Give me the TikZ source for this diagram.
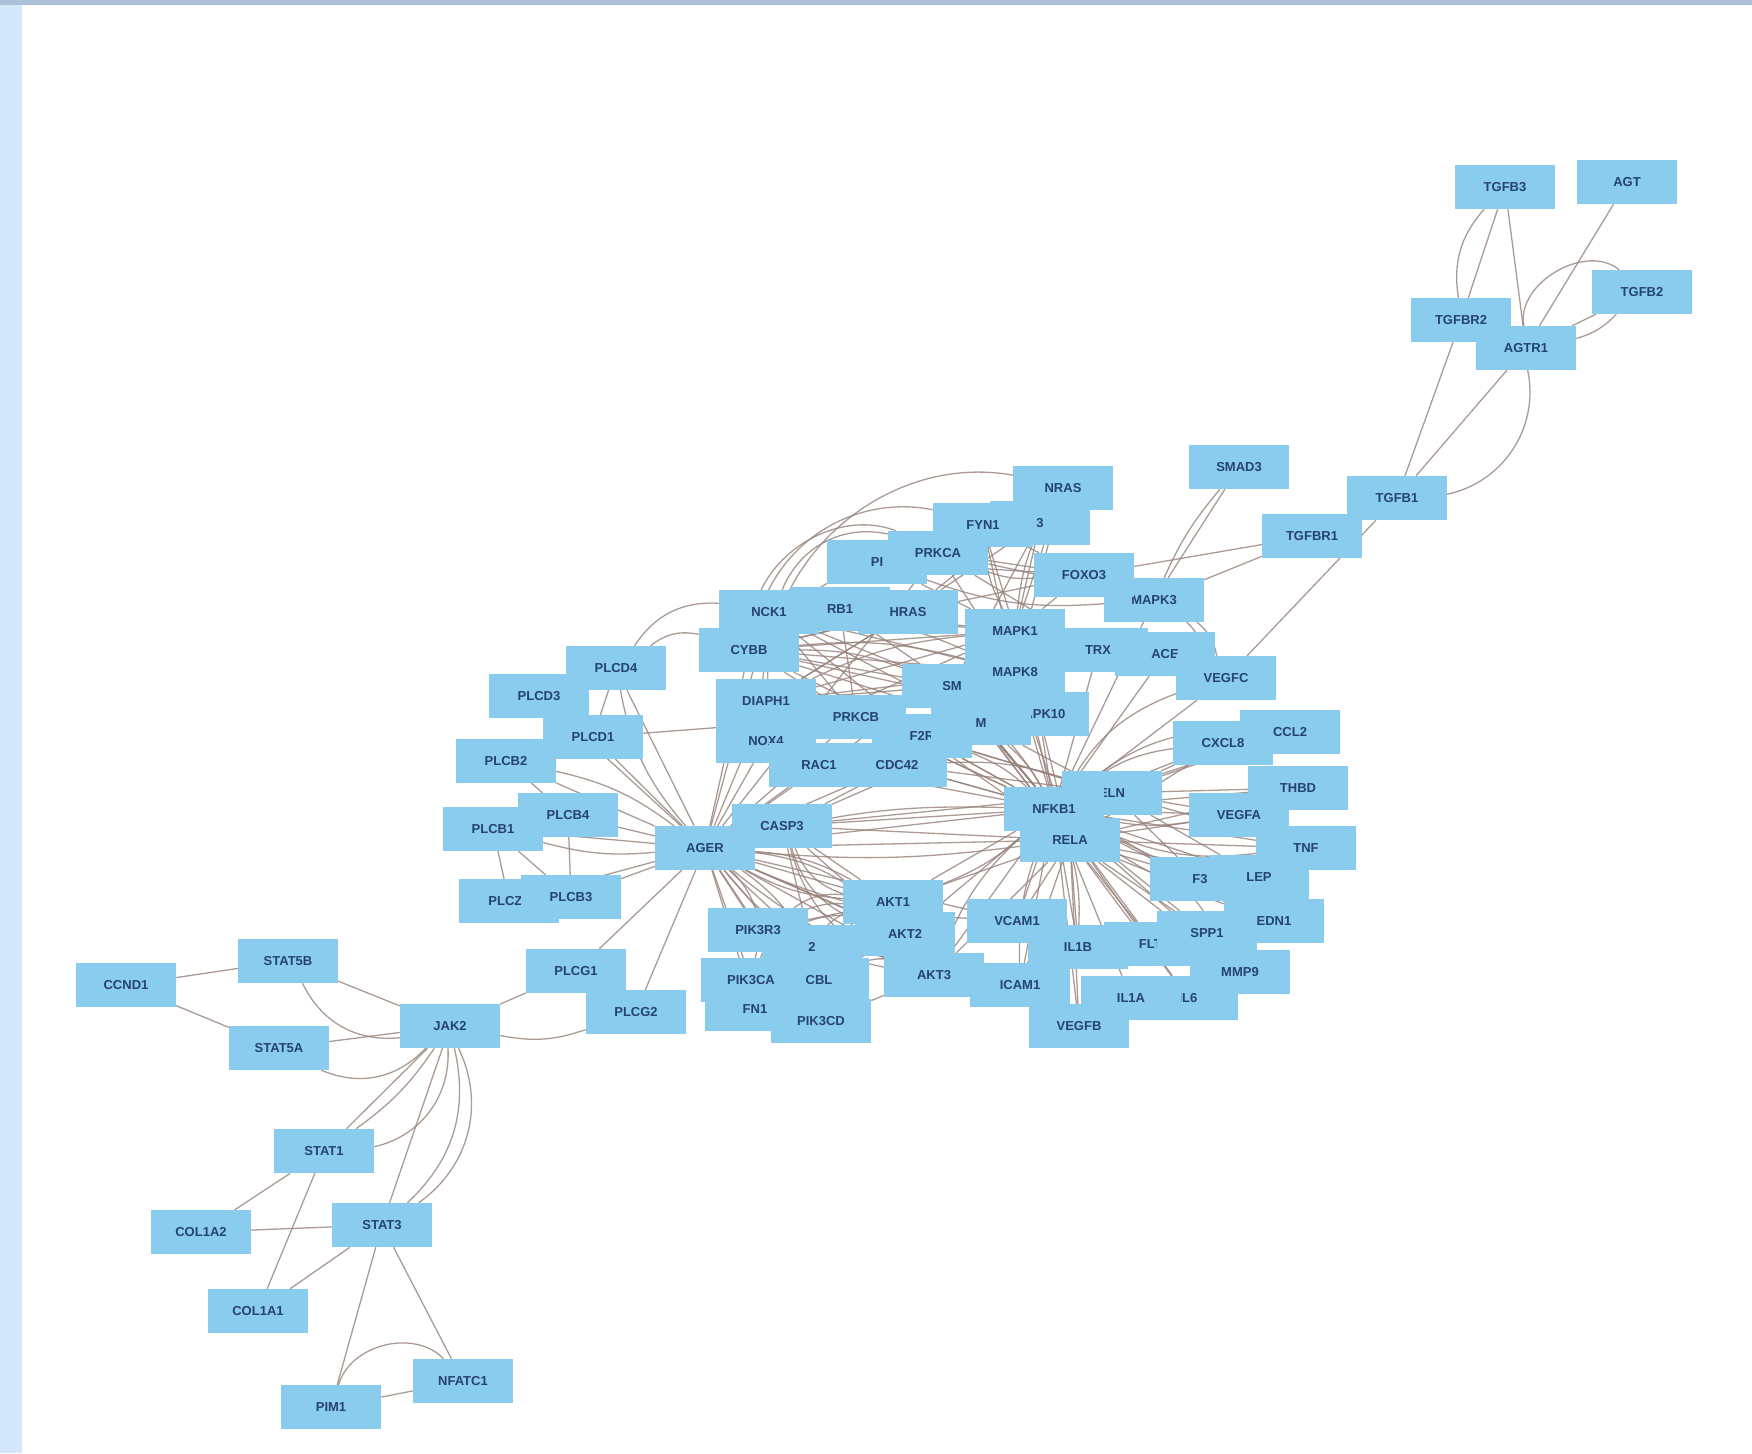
\documentclass[tikz,border=0pt]{standalone}
\usepackage{fontspec}
\newfontfamily\lsans{Liberation Sans}
\usetikzlibrary{backgrounds}
\definecolor{nodefill}{RGB}{137,204,238}
\definecolor{nodetext}{RGB}{38,66,112}
\definecolor{edgecol}{RGB}{150,130,122}
\definecolor{stripcol}{RGB}{212,230,250}
\definecolor{barcol}{RGB}{172,192,218}
\tikzset{
  gene/.style={rectangle, fill=nodefill, minimum width=100pt, minimum height=44pt, inner sep=0pt,
    font={\lsans\bfseries\fontsize{13pt}{13pt}\selectfont}, text=nodetext},
  edge/.style={draw=edgecol, line width=1.3pt, draw opacity=0.8},
}
\begin{document}
\begin{tikzpicture}[x=1pt,y=-1pt]
\useasboundingbox (0,0) rectangle (1752,1453);
% ---------- nodes ----------
% top right
\node[gene] (TGFB3) at (1505,187) {TGFB3};
\node[gene] (AGT) at (1627,182) {AGT};
\node[gene] (TGFB2) at (1642,292) {TGFB2};
\node[gene] (TGFBR2) at (1461,320) {TGFBR2};
\node[gene] (AGTR1) at (1526,348) {AGTR1};
\node[gene] (SMAD3) at (1239,467) {SMAD3};
\node[gene] (TGFB1) at (1397,498) {TGFB1};
\node[gene] (TGFBR1) at (1312,536) {TGFBR1};
% cluster
\node[gene] (X3) at (1040,523) {3};
\node[gene] (NRAS) at (1063,488) {NRAS};
\node[gene] (FYN) at (983,525) {FYN1};
\node[gene] (PI) at (877,562) {PI};
\node[gene] (PRKCA) at (938,553) {PRKCA};
\node[gene] (MAPK3) at (1154,600) {MAPK3};
\node[gene] (FOXO3) at (1084,575) {FOXO3};
\node[gene] (NCK1) at (769,612) {NCK1};
\node[gene] (RB1) at (840,609) {RB1};
\node[gene] (HRAS) at (908,612) {HRAS};
\node[gene] (MAPK1) at (1015,631) {MAPK1};
\node[gene] (CYBB) at (749,650) {CYBB};
\node[gene] (TRX) at (1098,650) {TRX};
\node[gene] (ACE) at (1165,654) {ACE};
\node[gene] (VEGFC) at (1226,678) {VEGFC};
\node[gene] (SM) at (952,686) {SM};
\node[gene] (MAPK8) at (1015,672) {MAPK8};
\node[gene] (DIAPH1) at (766,701) {DIAPH1};
\node[gene] (PLG) at (922,736) {F2R};
\node[gene] (PRKCB) at (856,717) {PRKCB};
\node[gene] (MAPK10) at (1039,714) {MAPK10};
\node[gene] (M) at (981,723) {M};
\node[gene] (NOX4) at (766,741) {NOX4};
\node[gene] (RAC1) at (819,765) {RAC1};
\node[gene] (CDC42) at (897,765) {CDC42};
% PLC group
\node[gene] (PLCD4) at (616,668) {PLCD4};
\node[gene] (PLCD3) at (539,696) {PLCD3};
\node[gene] (PLCD1) at (593,737) {PLCD1};
\node[gene] (PLCB2) at (506,761) {PLCB2};
\node[gene] (PLCB1) at (493,829) {PLCB1};
\node[gene] (PLCB4) at (568,815) {PLCB4};
\node[gene] (PLCZ1) at (509,901) {PLCZ1};
\node[gene] (PLCB3) at (571,897) {PLCB3};
\node[gene] (PLCG1) at (576,971) {PLCG1};
\node[gene] (PLCG2) at (636,1012) {PLCG2};
\node[gene] (AGER) at (705,848) {AGER};
\node[gene] (CASP3) at (782,826) {CASP3};
% NFKB group
\node[gene] (ELN) at (1112,793) {ELN};
\node[gene] (NFKB1) at (1054,809) {NFKB1};
\node[gene] (RELA) at (1070,840) {RELA};
\node[gene] (CCL2) at (1290,732) {CCL2};
\node[gene] (CXCL8) at (1223,743) {CXCL8};
\node[gene] (THBD) at (1298,788) {THBD};
\node[gene] (VEGFA) at (1239,815) {VEGFA};
\node[gene] (TNF) at (1306,848) {TNF};
\node[gene] (F3) at (1200,879) {F3};
\node[gene] (LEP) at (1259,877) {LEP};
\node[gene] (EDN1) at (1274,921) {EDN1};
\node[gene] (MMP9) at (1240,972) {MMP9};
\node[gene] (FLT1) at (1154,944) {FLT1};
\node[gene] (SPP1) at (1207,933) {SPP1};
\node[gene] (VCAM1) at (1017,921) {VCAM1};
\node[gene] (IL1B) at (1078,947) {IL1B};
\node[gene] (ICAM1) at (1020,985) {ICAM1};
\node[gene] (IL6) at (1188,998) {IL6};
\node[gene] (IL1A) at (1131,998) {IL1A};
\node[gene] (VEGFB) at (1079,1026) {VEGFB};
% PIK / AKT group
\node[gene] (AKT1) at (893,902) {AKT1};
\node[gene] (AKT2) at (905,934) {AKT2};
\node[gene] (AKT3) at (934,975) {AKT3};
\node[gene] (PIK3R2) at (812,947) {2};
\node[gene] (PIK3R3) at (758,930) {PIK3R3};
\node[gene] (CBL) at (819,980) {CBL};
\node[gene] (PIK3CA) at (751,980) {PIK3CA};
\node[gene] (FN1) at (755,1009) {FN1};
\node[gene] (PIK3CD) at (821,1021) {PIK3CD};
% left bottom
\node[gene] (CCND1) at (126,985) {CCND1};
\node[gene] (STAT5B) at (288,961) {STAT5B};
\node[gene] (STAT5A) at (279,1048) {STAT5A};
\node[gene] (JAK2) at (450,1026) {JAK2};
\node[gene] (STAT1) at (324,1151) {STAT1};
\node[gene] (COL1A2) at (201,1232) {COL1A2};
\node[gene] (STAT3) at (382,1225) {STAT3};
\node[gene] (COL1A1) at (258,1311) {COL1A1};
\node[gene] (PIM1) at (331,1407) {PIM1};
\node[gene] (NFATC1) at (463,1381) {NFATC1};
% ---------- frame and edges (behind the nodes) ----------
\begin{pgfonlayer}{background}
\fill[white] (0,0) rectangle (1752,1453);
\fill[stripcol] (0,5) rectangle (22,1453);
\fill[barcol] (0,0) rectangle (1752,5);
% top right
\foreach \a/\b in {TGFB3/TGFBR2, TGFB3/AGTR1, AGT/AGTR1, TGFB2/AGTR1, TGFBR2/TGFB1, AGTR1/TGFB1,
  SMAD3/MAPK3, TGFBR1/MAPK3, TGFB1/VEGFC, TGFBR1/FOXO3, TGFBR2/AGTR1}
  \draw[edge] (\a) -- (\b);
\draw[edge] (TGFB3) to[bend right=25] (TGFBR2);
\draw[edge] (AGTR1) to[bend left=70] (TGFB2);
\draw[edge] (AGTR1) to[bend right=15] (TGFB2);
\draw[edge] (AGTR1) to[bend left=45] (TGFB1);
\draw[edge] (SMAD3) to[bend right=8] (MAPK3);
% AGER fan
\foreach \b in {PLCD4, PLCD3, PLCD1, PLCB2, PLCB4, PLCB1, PLCZ1, PLCB3, PLCG1, PLCG2, CASP3,
  NFKB1, RELA, DIAPH1, NOX4, CYBB, PIK3R3, PIK3CA, PIK3CD, AKT1, AKT2, AKT3, PIK3R2, CBL, FN1,
  RAC1, PRKCB, PRKCA, NCK1, CDC42, MAPK1, VCAM1, ICAM1}
  \draw[edge] (AGER) -- (\b);
\foreach \b/\c in {AKT1/12, AKT1/-12, AKT2/18, AKT3/-20, PIK3CD/25, PIK3CA/30, NFKB1/8, RELA/-6, VCAM1/-10, ICAM1/-15, PLCD4/15, PLCB2/-12, PLCB1/10}
  \draw[edge] (AGER) to[bend left=\c] (\b);
\foreach \a/\b in {PLCD1/PLCD3, PLCB2/PLCB4, PLCB1/PLCB3, PLCD4/PLCD1, PLCD1/PRKCB, PLCB4/PLCB3, PLCZ1/PLCB1}
  \draw[edge] (\a) -- (\b);
% CASP3 to NFKB
\foreach \b in {NFKB1, RELA, ELN, M, MAPK10, AKT1}
  \draw[edge] (CASP3) -- (\b);
% NFKB hub
\foreach \b in {CXCL8, CCL2, THBD, VEGFA, TNF, F3, LEP, EDN1, SPP1, FLT1, MMP9, IL1B, IL1A, IL6,
  VCAM1, ICAM1, VEGFB, AKT1, AKT2, AKT3, MAPK1, MAPK8, MAPK10, MAPK3, ACE, TRX, VEGFC, M, PLG, CDC42, SM, PRKCB}
  \draw[edge] (NFKB1) -- (\b);
\foreach \b in {VCAM1, ICAM1, IL1B, IL6, TNF, F3, CXCL8, MMP9, EDN1, LEP, VEGFA, THBD, SPP1, FLT1, AKT1, AKT3, VEGFB}
  \draw[edge] (RELA) -- (\b);
\foreach \b in {CXCL8, THBD, VEGFA, CCL2, TNF, LEP, F3}
  \draw[edge] (ELN) -- (\b);
\foreach \b/\c in {CXCL8/15, CCL2/20, TNF/-15, VEGFA/-10, IL1B/12, ICAM1/-12, MMP9/18, EDN1/-8, AKT1/10, AKT3/-14, VEGFC/20}
  \draw[edge] (NFKB1) to[bend left=\c] (\b);
% tangles
\foreach \a/\b in {CYBB/MAPK1, NCK1/MAPK8, RB1/SM, HRAS/DIAPH1, CYBB/MAPK8, DIAPH1/MAPK1, NCK1/SM,
  CYBB/HRAS, CYBB/PRKCB, NCK1/MAPK1, DIAPH1/MAPK8, CYBB/SM, NOX4/MAPK1, RB1/PRKCB, NCK1/PRKCB,
  CYBB/MAPK10, DIAPH1/HRAS, NCK1/PLG, CYBB/M, NCK1/M, DIAPH1/SM, CYBB/PLG}
  \draw[edge] (\a) -- (\b);
\foreach \a/\b in {CYBB/MAPK1, NCK1/MAPK8, DIAPH1/MAPK1, CYBB/SM, NCK1/HRAS, CYBB/MAPK8}
  \draw[edge] (\a) to[bend left=10] (\b);
\foreach \a/\b in {PRKCA/FOXO3, FYN/MAPK1, PRKCA/MAPK3, NRAS/MAPK1, X3/MAPK1, HRAS/FOXO3, FYN/MAPK8,
  PI/FOXO3, PRKCA/TRX, NRAS/HRAS, X3/HRAS, FYN/FOXO3, PRKCA/MAPK8, PI/MAPK1, NRAS/MAPK8, FOXO3/MAPK1, X3/SM}
  \draw[edge] (\a) -- (\b);
\foreach \a/\b in {PRKCA/FOXO3, FYN/MAPK1, NRAS/MAPK1, PI/MAPK3}
  \draw[edge] (\a) to[bend right=12] (\b);
\foreach \a/\b in {M/NFKB1, MAPK10/CDC42, PLG/NFKB1, CDC42/ELN, M/RELA, MAPK10/RELA, PRKCB/ELN,
  SM/NFKB1, MAPK8/RELA, PLG/RELA, CDC42/NFKB1, PRKCB/NFKB1, RAC1/NFKB1, M/ELN, SM/RELA, PLG/ELN}
  \draw[edge] (\a) -- (\b);
\foreach \a/\b in {M/NFKB1, PLG/NFKB1, CDC42/ELN, SM/RELA}
  \draw[edge] (\a) to[bend left=10] (\b);
% arcs over the top of the cluster
\draw[edge] (CYBB) to[bend left=45] (FYN);
\draw[edge] (NCK1) to[bend left=40] (PRKCA);
\draw[edge] (DIAPH1) to[bend left=50] (NRAS);
\draw[edge] (CYBB) to[bend left=55] (PRKCA);
\draw[edge] (NOX4) to[bend left=35] (PI);
\draw[edge] (PLCD4) to[bend left=30] (NCK1);
\draw[edge] (PLCD4) to[bend left=25] (CYBB);
\draw[edge] (FOXO3) to[bend left=20] (VEGFC);
\draw[edge] (MAPK3) to[bend left=20] (VEGFC);
\draw[edge] (ACE) -- (VEGFC);
% arcs around PIK / AKT
\foreach \a/\b/\c in {AKT3/PIK3CD/-40, AKT1/PIK3CD/-45, AKT2/PIK3CA/-50, AKT3/FN1/-55, AKT1/PIK3R3/-20,
  AKT2/PIK3CD/-30, AKT3/PIK3CA/-60, AKT1/CBL/-15}
  \draw[edge] (\a) to[bend left=\c] (\b);
\foreach \a/\b in {AKT1/PIK3R3, AKT2/PIK3R2, AKT3/PIK3CD, AKT1/PIK3CA, AKT2/CBL, CASP3/AKT2, CASP3/PIK3R2}
  \draw[edge] (\a) -- (\b);
\foreach \b in {AKT1, AKT2, AKT3}
  \draw[edge] (CASP3) to[bend right=25] (\b);
% left bottom
\foreach \a/\b in {CCND1/STAT5B, CCND1/STAT5A, STAT5B/JAK2, STAT5A/JAK2, JAK2/PLCG1, JAK2/STAT1,
  JAK2/STAT3, STAT1/COL1A2, STAT1/COL1A1, STAT3/COL1A2, STAT3/COL1A1, STAT3/PIM1, STAT3/NFATC1,
  PIM1/NFATC1}
  \draw[edge] (\a) -- (\b);
\draw[edge] (STAT5B) to[bend right=35] (JAK2);
\draw[edge] (STAT5A) to[bend right=35] (JAK2);
\draw[edge] (JAK2) to[bend right=15] (PLCG2);
\draw[edge] (STAT1) to[bend right=40] (JAK2);
\draw[edge] (JAK2) to[bend left=30] (STAT3);
\draw[edge] (JAK2) to[bend left=10] (STAT1);
\draw[edge] (JAK2) to[bend left=40] (STAT3);
\draw[edge] (PIM1) to[bend left=60] (NFATC1);
\end{pgfonlayer}
\end{tikzpicture}
\end{document}
